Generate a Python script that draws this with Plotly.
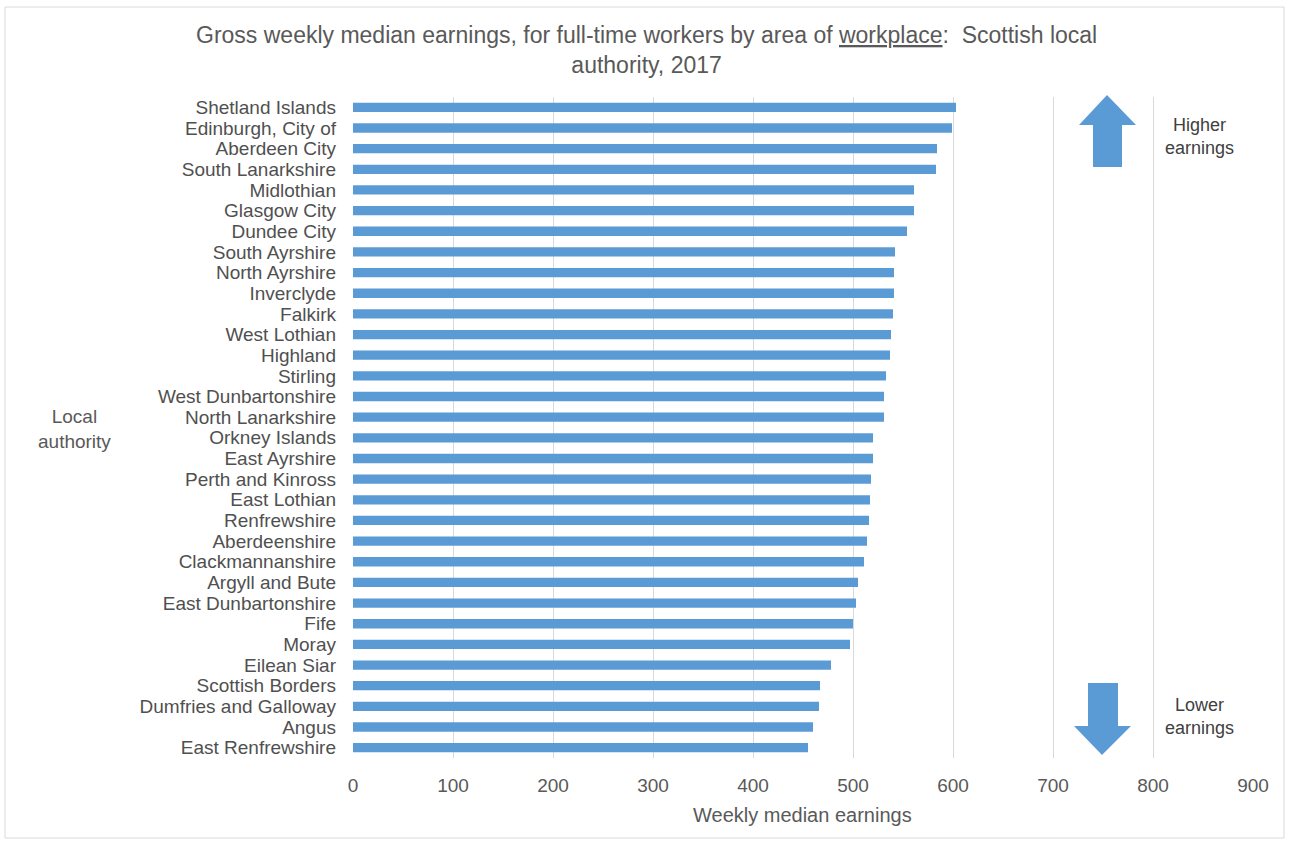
import plotly.graph_objects as go

areas = ["Shetland Islands", "Edinburgh, City of", "Aberdeen City", "South Lanarkshire",
         "Midlothian", "Glasgow City", "Dundee City", "South Ayrshire", "North Ayrshire",
         "Inverclyde", "Falkirk", "West Lothian", "Highland", "Stirling",
         "West Dunbartonshire", "North Lanarkshire", "Orkney Islands", "East Ayrshire",
         "Perth and Kinross", "East Lothian", "Renfrewshire", "Aberdeenshire",
         "Clackmannanshire", "Argyll and Bute", "East Dunbartonshire", "Fife", "Moray",
         "Eilean Siar", "Scottish Borders", "Dumfries and Galloway", "Angus",
         "East Renfrewshire"]
earnings = [603, 599, 584, 583, 561, 561, 554, 542, 541, 541, 540, 538, 537, 533,
            531, 531, 520, 520, 518, 517, 516, 514, 511, 505, 503, 500, 497, 478,
            467, 466, 460, 455]
x_ticks = [0, 100, 200, 300, 400, 500, 600, 700, 800, 900]

W, H = 1290, 843
L, R, T, B = 353, 37, 97, 85
PW, PH = W - L - R, H - T - B

def px(xp):
    return (xp - L) / PW

def py(yp):
    return (H - B - yp) / PH

BLUE = "#5B9BD5"
FONT = "Liberation Sans, Arial, sans-serif"

fig = go.Figure(go.Bar(
    x=earnings, y=areas, orientation="h",
    marker=dict(color=BLUE, line=dict(width=0)),
    width=0.45,
))

up = [(1093, 167), (1093, 125), (1079, 125), (1107, 95), (1136, 125), (1122, 125), (1122, 167)]
down = [(1088, 683), (1088, 726), (1074, 726), (1102, 755), (1131, 726), (1118, 726), (1118, 683)]

def path(pts):
    return "M " + " L ".join(f"{px(a):.5f},{py(b):.5f}" for a, b in pts) + " Z"

shapes = [
    dict(type="path", xref="paper", yref="paper", path=path(up),
         fillcolor=BLUE, line=dict(width=0), layer="above"),
    dict(type="path", xref="paper", yref="paper", path=path(down),
         fillcolor=BLUE, line=dict(width=0), layer="above"),
    dict(type="rect", xref="paper", yref="paper",
         x0=px(5), x1=px(1284), y0=py(838), y1=py(7),
         line=dict(color="#d9d9d9", width=1), fillcolor="rgba(0,0,0,0)", layer="below"),
]

def ann(x, y, text, size, color="#595959"):
    return dict(xref="paper", yref="paper", x=px(x), y=py(y), text=text,
                xanchor="center", yanchor="middle", showarrow=False, align="center",
                font=dict(size=size, color=color, family=FONT))

annotations = [
    ann(1199, 136, "Higher<br>earnings", 18, "#404040"),
    ann(1199, 716, "Lower<br>earnings", 18, "#404040"),
    ann(74, 429, "Local<br>authority", 19),
    ann(646, 50, "Gross weekly median earnings, for full-time workers by area of "
                 "<span style='text-decoration:underline'>workplace</span>:  Scottish local"
                 "<br>authority, 2017", 23),
    ann(802, 815, "Weekly median earnings", 20),
]

fig.update_layout(
    width=W, height=H,
    margin=dict(l=L, r=R, t=T, b=B),
    paper_bgcolor="white", plot_bgcolor="white",
    showlegend=False,
    bargap=0.55,
    font=dict(family=FONT, size=16, color="#595959"),
    shapes=shapes,
    annotations=annotations,
    xaxis=dict(range=[0, 900], tickvals=x_ticks, ticktext=[str(v) for v in x_ticks],
               showgrid=True, gridcolor="#d9d9d9", gridwidth=1, zeroline=False,
               showline=False, ticks="", tickfont=dict(size=19, color="#595959"),
               ticklabelstandoff=14, fixedrange=True),
    yaxis=dict(categoryorder="array", categoryarray=areas, autorange="reversed",
               tickmode="array", tickvals=areas, ticktext=areas,
               showgrid=False, zeroline=False, showline=False, ticks="",
               tickfont=dict(size=19, color="#505050"), ticklabelstandoff=16,
               fixedrange=True),
)

fig.write_html("out.html")
